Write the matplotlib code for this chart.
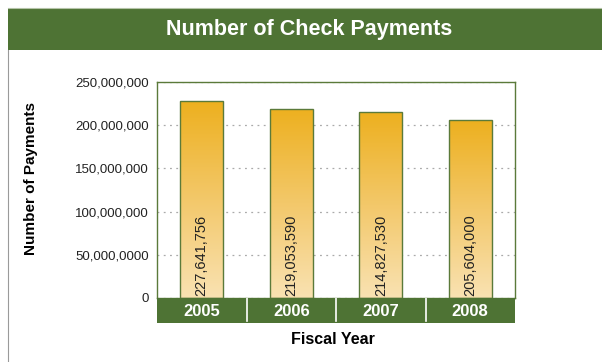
import numpy as np
import matplotlib.pyplot as plt
from matplotlib.patches import Rectangle
from matplotlib.ticker import FixedLocator
from matplotlib.lines import Line2D
from matplotlib.colors import LinearSegmentedColormap

# check payment counts by fiscal year
years = ["2005", "2006", "2007", "2008"]
payments = [227641756, 219053590, 214827530, 205604000]
value_labels = ["227,641,756", "219,053,590", "214,827,530", "205,604,000"]
yticks = [0, 50000000, 100000000, 150000000, 200000000, 250000000]
ytick_labels = ["0", "50,000,0000", "100,000,000", "150,000,000", "200,000,000", "250,000,000"]

green = "#4e7334"
plt.rcParams['font.family'] = ['Liberation Sans', 'DejaVu Sans']

W, H = 602, 362
fig = plt.figure(figsize=(W / 100, H / 100), dpi=100)

def fx(px):
    return px / W

def fy(py):
    return 1 - py / H

# title banner and outer frame
fig.add_artist(Rectangle((fx(8), fy(50)), 1 - fx(8), fy(9) - fy(50),
                         transform=fig.transFigure, facecolor=green, edgecolor="none"))
fig.add_artist(Line2D([fx(8), fx(8)], [0, fy(50)], transform=fig.transFigure,
                      color="#9a9a9a", lw=0.8))
fig.add_artist(Line2D([fx(8), 1], [fy(7.5), fy(7.5)], transform=fig.transFigure,
                      color="#b5c4a8", lw=0.8))
fig.text(fx(309), fy(30), "Number of Check Payments", color="white",
         fontsize=15.5, fontweight="bold", ha="center", va="center")

# main plot area
ax = fig.add_axes([fx(157), fy(298), fx(515) - fx(157), fy(82) - fy(298)])
x = np.arange(len(years))
bars = ax.bar(x, payments, width=0.48, facecolor="none", edgecolor="#5b7a3a",
              linewidth=1.0, zorder=3)

# vertical gradient inside each bar
grad = np.linspace(0, 1, 256).reshape(-1, 1)
cmap = LinearSegmentedColormap.from_list("barfill", ["#f9e2b2", "#f3c86a", "#edb01f"])
for b in bars:
    x0, w, h = b.get_x(), b.get_width(), b.get_height()
    im = ax.imshow(grad, extent=[x0, x0 + w, 0, h], origin="lower", cmap=cmap,
                   aspect="auto", zorder=2)
    im.set_clip_path(b)

for xi, lab in zip(x, value_labels):
    ax.text(xi, 2500000, lab, rotation=90, ha="center", va="bottom",
            fontsize=10.5, color="#222222", zorder=4)

ax.set_xlim(-0.5, 3.5)
ax.set_ylim(0, 250000000)
ax.yaxis.set_major_locator(FixedLocator(yticks))
ax.set_yticklabels(ytick_labels, fontsize=9.5, color="#222222")
ax.tick_params(axis="y", length=0, pad=6)
ax.set_xticks([])
ax.grid(axis="y", linestyle=(0, (1.5, 3.5)), color="#aaaaaa", lw=0.9, zorder=1)
ax.set_axisbelow(True)
for s in ax.spines.values():
    s.set_color("#5b7a3a")
    s.set_linewidth(1.0)
ax.set_ylabel("Number of Payments", fontsize=11, fontweight="bold")
ax.yaxis.set_label_coords(-(157 - 38) / 358, 0.555)

# green category band under the axis
band = fig.add_axes([fx(157), fy(323), fx(515) - fx(157), fy(298) - fy(323)])
band.set_facecolor(green)
band.set_xlim(-0.5, 3.5)
band.set_ylim(0, 1)
for xb in [0.5, 1.5, 2.5]:
    band.axvline(xb, ymin=0.1, ymax=1, color="white", lw=1.2)
for xi, yr in zip(x, years):
    band.text(xi, 0.45, yr, color="white", fontsize=12, fontweight="bold",
              ha="center", va="center")
band.set_xticks([])
band.set_yticks([])
for s in band.spines.values():
    s.set_visible(False)

fig.text(fx(333), fy(340), "Fiscal Year", fontsize=11.5, fontweight="bold",
         ha="center", va="center")

fig.savefig("out.png", dpi=100)
